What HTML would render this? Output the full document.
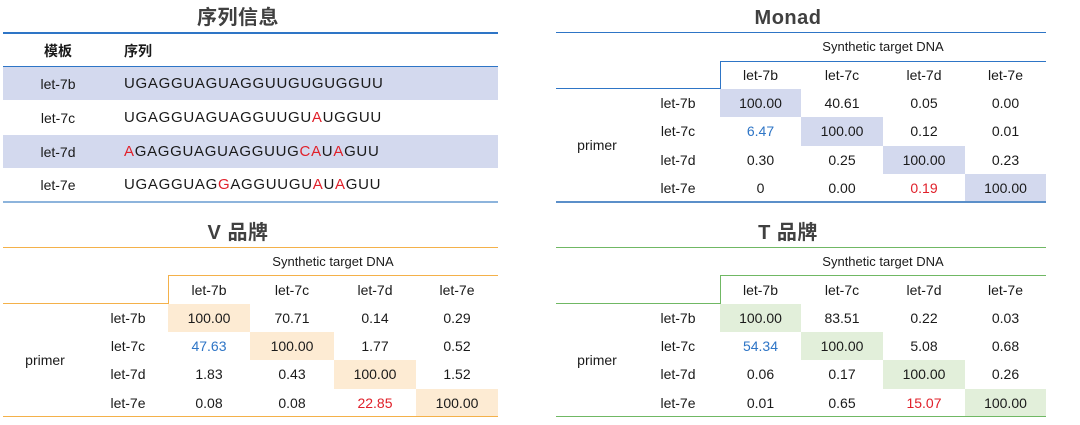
<!DOCTYPE html>
<html><head><meta charset="utf-8"><style>
*{margin:0;padding:0;box-sizing:border-box}
body{width:1080px;height:425px;background:#fff;position:relative;overflow:hidden;font-family:"Liberation Sans","Noto Sans CJK SC",sans-serif;color:#1a1a1a;font-size:14px}
div{position:absolute}
.t{font-weight:bold;font-size:20px;letter-spacing:0.5px;color:#404040;text-align:center;line-height:24px}
.c{text-align:center;white-space:nowrap}
.r{color:#e0202a}.b{color:#2e75c6}
.s{font-size:15px;letter-spacing:0.7px}
</style></head><body>
<!-- 序列信息 -->
<div class="t" style="left:138px;top:6px;width:200px">序列信息</div>
<div style="left:3px;top:32px;width:495px;height:2px;background:#2e75c6"></div>
<div class="c" style="left:18px;top:38px;width:80px;line-height:26px;font-weight:bold">模板</div>
<div style="left:124px;top:38px;line-height:26px;font-weight:bold">序列</div>
<div style="left:3px;top:66px;width:495px;height:1px;background:#2e75c6"></div>
<div style="left:3px;top:67px;width:495px;height:33px;background:#d3d9ee"></div>
<div style="left:3px;top:135px;width:495px;height:33px;background:#d3d9ee"></div>
<div class="c" style="left:18px;top:67px;width:80px;line-height:34px">let-7b</div>
<div class="c" style="left:18px;top:101px;width:80px;line-height:34px">let-7c</div>
<div class="c" style="left:18px;top:135px;width:80px;line-height:34px">let-7d</div>
<div class="c" style="left:18px;top:168px;width:80px;line-height:34px">let-7e</div>
<div class="s" style="left:124px;top:67px;line-height:34px">UGAGGUAGUAGGUUGUGUGGUU</div>
<div class="s" style="left:124px;top:101px;line-height:34px">UGAGGUAGUAGGUUGU<span class="r">A</span>UGGUU</div>
<div class="s" style="left:124px;top:135px;line-height:34px"><span class="r">A</span>GAGGUAGUAGGUUG<span class="r">CA</span>U<span class="r">A</span>GUU</div>
<div class="s" style="left:124px;top:168px;line-height:34px">UGAGGUAG<span class="r">G</span>AGGUUGU<span class="r">A</span>U<span class="r">A</span>GUU</div>
<div style="left:3px;top:201px;width:495px;height:2px;background:#8db4dc"></div>

<!-- Monad -->
<div class="t" style="left:688px;top:6px;width:200px">Monad</div>
<div style="left:556px;top:32px;width:490px;height:1px;background:#2e75c6"></div>
<div class="c" style="left:720px;top:33px;width:326px;line-height:28px;font-size:13px">Synthetic target DNA</div>
<div style="left:720px;top:61px;width:326px;height:1px;background:#2e75c6"></div>
<div style="left:720px;top:61px;width:1px;height:28px;background:#2e75c6"></div>
<div style="left:556px;top:88px;width:165px;height:1px;background:#2e75c6"></div>
<div class="c" style="left:720px;top:61px;width:81px;line-height:28px">let-7b</div>
<div class="c" style="left:801px;top:61px;width:82px;line-height:28px">let-7c</div>
<div class="c" style="left:883px;top:61px;width:82px;line-height:28px">let-7d</div>
<div class="c" style="left:965px;top:61px;width:81px;line-height:28px">let-7e</div>
<div style="left:720px;top:89px;width:81px;height:28px;background:#d3d9ee"></div>
<div style="left:801px;top:117px;width:82px;height:29px;background:#d3d9ee"></div>
<div style="left:883px;top:146px;width:82px;height:28px;background:#d3d9ee"></div>
<div style="left:965px;top:174px;width:81px;height:28px;background:#d3d9ee"></div>
<div class="c" style="left:557px;top:89px;width:80px;line-height:113px">primer</div>
<div class="c" style="left:638px;top:89px;width:80px;line-height:28px">let-7b</div>
<div class="c" style="left:638px;top:117px;width:80px;line-height:29px">let-7c</div>
<div class="c" style="left:638px;top:146px;width:80px;line-height:28px">let-7d</div>
<div class="c" style="left:638px;top:174px;width:80px;line-height:28px">let-7e</div>
<div class="c" style="left:720px;top:89px;width:81px;line-height:28px">100.00</div>
<div class="c" style="left:801px;top:89px;width:82px;line-height:28px">40.61</div>
<div class="c" style="left:883px;top:89px;width:82px;line-height:28px">0.05</div>
<div class="c" style="left:965px;top:89px;width:81px;line-height:28px">0.00</div>
<div class="c b" style="left:720px;top:117px;width:81px;line-height:29px">6.47</div>
<div class="c" style="left:801px;top:117px;width:82px;line-height:29px">100.00</div>
<div class="c" style="left:883px;top:117px;width:82px;line-height:29px">0.12</div>
<div class="c" style="left:965px;top:117px;width:81px;line-height:29px">0.01</div>
<div class="c" style="left:720px;top:146px;width:81px;line-height:28px">0.30</div>
<div class="c" style="left:801px;top:146px;width:82px;line-height:28px">0.25</div>
<div class="c" style="left:883px;top:146px;width:82px;line-height:28px">100.00</div>
<div class="c" style="left:965px;top:146px;width:81px;line-height:28px">0.23</div>
<div class="c" style="left:720px;top:174px;width:81px;line-height:28px">0</div>
<div class="c" style="left:801px;top:174px;width:82px;line-height:28px">0.00</div>
<div class="c r" style="left:883px;top:174px;width:82px;line-height:28px">0.19</div>
<div class="c" style="left:965px;top:174px;width:81px;line-height:28px">100.00</div>
<div style="left:556px;top:201px;width:490px;height:2px;background:#5b8fc9"></div>

<!-- V 品牌 -->
<div class="t" style="left:138px;top:221px;width:200px">V 品牌</div>
<div style="left:3px;top:247px;width:495px;height:1px;background:#f4b14a"></div>
<div class="c" style="left:168px;top:248px;width:330px;line-height:28px;font-size:13px">Synthetic target DNA</div>
<div style="left:168px;top:275px;width:330px;height:1px;background:#f4b14a"></div>
<div style="left:168px;top:275px;width:1px;height:29px;background:#f4b14a"></div>
<div style="left:3px;top:303px;width:166px;height:1px;background:#f4b14a"></div>
<div class="c" style="left:168px;top:276px;width:82px;line-height:28px">let-7b</div>
<div class="c" style="left:250px;top:276px;width:84px;line-height:28px">let-7c</div>
<div class="c" style="left:334px;top:276px;width:82px;line-height:28px">let-7d</div>
<div class="c" style="left:416px;top:276px;width:82px;line-height:28px">let-7e</div>
<div style="left:168px;top:304px;width:82px;height:28px;background:#fdebd3"></div>
<div style="left:250px;top:332px;width:84px;height:28px;background:#fdebd3"></div>
<div style="left:334px;top:360px;width:82px;height:29px;background:#fdebd3"></div>
<div style="left:416px;top:389px;width:82px;height:28px;background:#fdebd3"></div>
<div class="c" style="left:5px;top:304px;width:80px;line-height:113px">primer</div>
<div class="c" style="left:88px;top:304px;width:80px;line-height:28px">let-7b</div>
<div class="c" style="left:88px;top:332px;width:80px;line-height:28px">let-7c</div>
<div class="c" style="left:88px;top:360px;width:80px;line-height:29px">let-7d</div>
<div class="c" style="left:88px;top:389px;width:80px;line-height:28px">let-7e</div>
<div class="c" style="left:168px;top:304px;width:82px;line-height:28px">100.00</div>
<div class="c" style="left:250px;top:304px;width:84px;line-height:28px">70.71</div>
<div class="c" style="left:334px;top:304px;width:82px;line-height:28px">0.14</div>
<div class="c" style="left:416px;top:304px;width:82px;line-height:28px">0.29</div>
<div class="c b" style="left:168px;top:332px;width:82px;line-height:28px">47.63</div>
<div class="c" style="left:250px;top:332px;width:84px;line-height:28px">100.00</div>
<div class="c" style="left:334px;top:332px;width:82px;line-height:28px">1.77</div>
<div class="c" style="left:416px;top:332px;width:82px;line-height:28px">0.52</div>
<div class="c" style="left:168px;top:360px;width:82px;line-height:29px">1.83</div>
<div class="c" style="left:250px;top:360px;width:84px;line-height:29px">0.43</div>
<div class="c" style="left:334px;top:360px;width:82px;line-height:29px">100.00</div>
<div class="c" style="left:416px;top:360px;width:82px;line-height:29px">1.52</div>
<div class="c" style="left:168px;top:389px;width:82px;line-height:28px">0.08</div>
<div class="c" style="left:250px;top:389px;width:84px;line-height:28px">0.08</div>
<div class="c r" style="left:334px;top:389px;width:82px;line-height:28px">22.85</div>
<div class="c" style="left:416px;top:389px;width:82px;line-height:28px">100.00</div>
<div style="left:3px;top:416px;width:495px;height:1px;background:#f4b14a"></div>

<!-- T 品牌 -->
<div class="t" style="left:688px;top:221px;width:200px">T 品牌</div>
<div style="left:556px;top:247px;width:490px;height:1px;background:#70b864"></div>
<div class="c" style="left:720px;top:248px;width:326px;line-height:28px;font-size:13px">Synthetic target DNA</div>
<div style="left:720px;top:275px;width:326px;height:1px;background:#70b864"></div>
<div style="left:720px;top:275px;width:1px;height:29px;background:#70b864"></div>
<div style="left:556px;top:303px;width:165px;height:1px;background:#70b864"></div>
<div class="c" style="left:720px;top:276px;width:81px;line-height:28px">let-7b</div>
<div class="c" style="left:801px;top:276px;width:82px;line-height:28px">let-7c</div>
<div class="c" style="left:883px;top:276px;width:82px;line-height:28px">let-7d</div>
<div class="c" style="left:965px;top:276px;width:81px;line-height:28px">let-7e</div>
<div style="left:720px;top:304px;width:81px;height:28px;background:#e2efda"></div>
<div style="left:801px;top:332px;width:82px;height:28px;background:#e2efda"></div>
<div style="left:883px;top:360px;width:82px;height:29px;background:#e2efda"></div>
<div style="left:965px;top:389px;width:81px;height:28px;background:#e2efda"></div>
<div class="c" style="left:557px;top:304px;width:80px;line-height:113px">primer</div>
<div class="c" style="left:638px;top:304px;width:80px;line-height:28px">let-7b</div>
<div class="c" style="left:638px;top:332px;width:80px;line-height:28px">let-7c</div>
<div class="c" style="left:638px;top:360px;width:80px;line-height:29px">let-7d</div>
<div class="c" style="left:638px;top:389px;width:80px;line-height:28px">let-7e</div>
<div class="c" style="left:720px;top:304px;width:81px;line-height:28px">100.00</div>
<div class="c" style="left:801px;top:304px;width:82px;line-height:28px">83.51</div>
<div class="c" style="left:883px;top:304px;width:82px;line-height:28px">0.22</div>
<div class="c" style="left:965px;top:304px;width:81px;line-height:28px">0.03</div>
<div class="c b" style="left:720px;top:332px;width:81px;line-height:28px">54.34</div>
<div class="c" style="left:801px;top:332px;width:82px;line-height:28px">100.00</div>
<div class="c" style="left:883px;top:332px;width:82px;line-height:28px">5.08</div>
<div class="c" style="left:965px;top:332px;width:81px;line-height:28px">0.68</div>
<div class="c" style="left:720px;top:360px;width:81px;line-height:29px">0.06</div>
<div class="c" style="left:801px;top:360px;width:82px;line-height:29px">0.17</div>
<div class="c" style="left:883px;top:360px;width:82px;line-height:29px">100.00</div>
<div class="c" style="left:965px;top:360px;width:81px;line-height:29px">0.26</div>
<div class="c" style="left:720px;top:389px;width:81px;line-height:28px">0.01</div>
<div class="c" style="left:801px;top:389px;width:82px;line-height:28px">0.65</div>
<div class="c r" style="left:883px;top:389px;width:82px;line-height:28px">15.07</div>
<div class="c" style="left:965px;top:389px;width:81px;line-height:28px">100.00</div>
<div style="left:556px;top:416px;width:490px;height:1px;background:#70b864"></div>
</body></html>
